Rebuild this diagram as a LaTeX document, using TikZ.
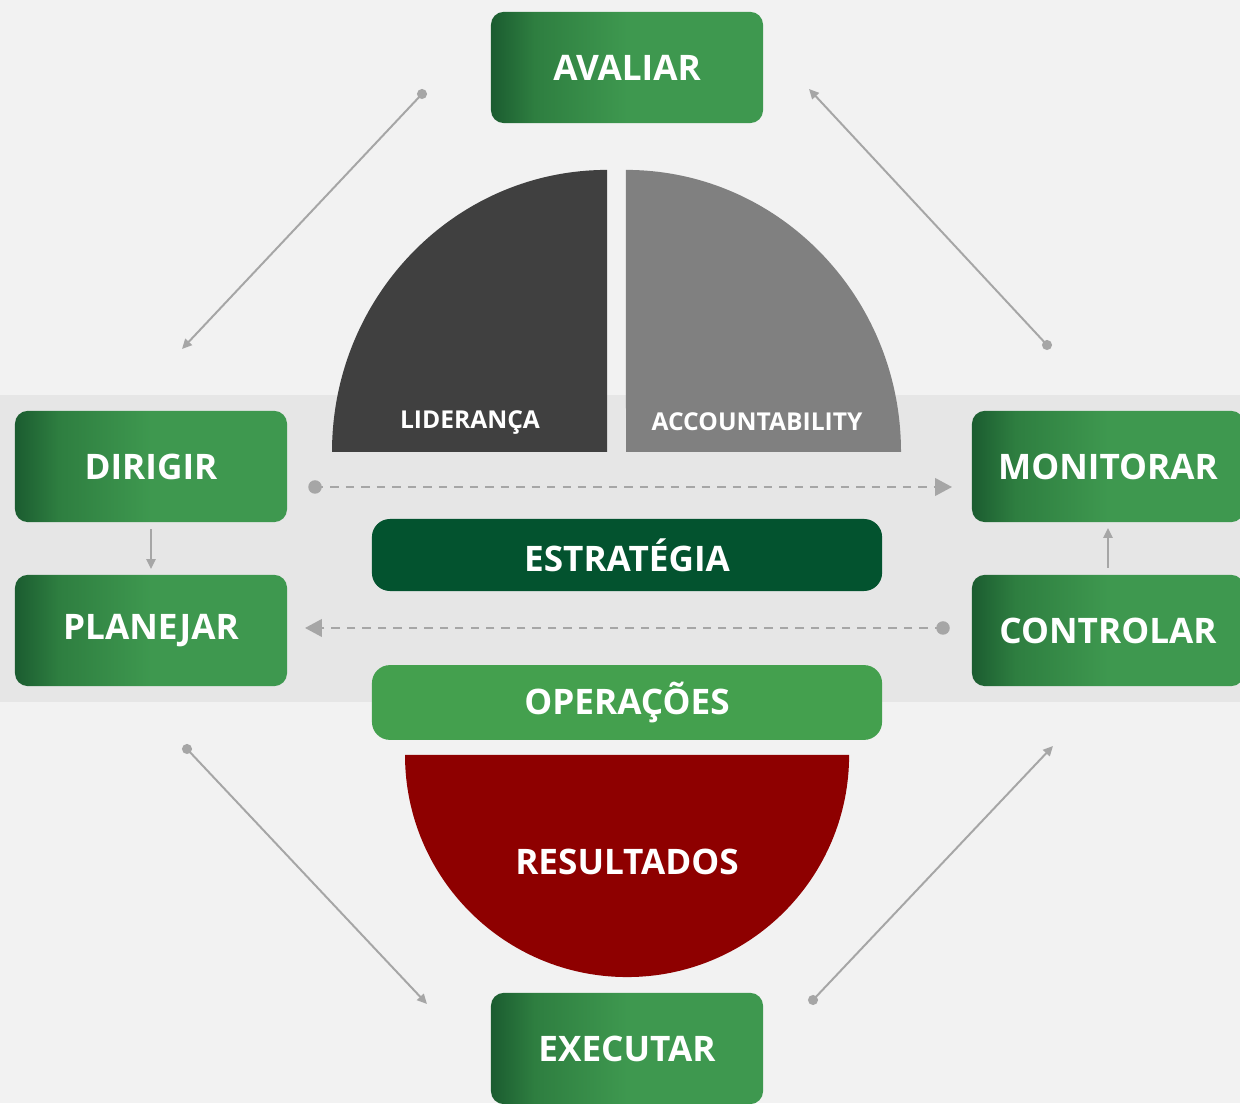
\documentclass[tikz,border=0pt]{standalone}
\usepackage{fontspec}
\setmainfont{Open Sans}
\usetikzlibrary{arrows.meta}
\definecolor{paper}{HTML}{F2F2F2}
\definecolor{band}{HTML}{E6E6E6}
\definecolor{gdark}{HTML}{1B5C30}
\definecolor{gmid}{HTML}{2E7E40}
\definecolor{glight}{HTML}{3E984F}
\definecolor{strat}{HTML}{03532F}
\definecolor{oper}{HTML}{44A04E}
\definecolor{result}{HTML}{8E0000}
\definecolor{lead}{HTML}{404040}
\definecolor{account}{HTML}{808080}
\definecolor{wire}{HTML}{A6A6A6}
\pgfdeclarehorizontalshading{boxshade}{100bp}{color(0bp)=(gdark); color(25bp)=(gdark); color(33bp)=(gmid); color(50bp)=(glight); color(100bp)=(glight)}
\newcommand{\biglbl}{\fontsize{25}{28}\selectfont\bfseries}
\newcommand{\smalllbl}{\fontsize{17.5}{20}\selectfont\bfseries}

\begin{document}
\begin{tikzpicture}[x=0.025cm, y=0.025cm,
    stage/.style={shading=boxshade, rounded corners=0.32cm, minimum width=6.8cm, minimum height=2.78cm, inner sep=0pt, text=white, font=\biglbl},
    bar/.style={rounded corners=0.45cm, minimum width=12.75cm, inner sep=0pt, text=white, font=\biglbl},
    wirearrow/.style={draw=wire, line width=1.4pt, -{Triangle[length=7pt,width=6.5pt]}},
    dashwire/.style={draw=wire, line width=1.4pt, dash pattern=on 6pt off 5pt, -{Triangle[length=12pt,width=12.5pt]}}]
    \useasboundingbox (0,0) rectangle (1240,1103);
    \clip (0,0) rectangle (1240,1103);
    \fill[paper] (0,0) rectangle (1240,1103);
    \fill[band] (0,401) rectangle (1240,708);
    % upper quarters
    \fill[lead] (607,651) -- (332,651) arc[start angle=180, end angle=90, x radius=6.875cm, y radius=7.05cm] -- cycle;
    \fill[account] (626,651) -- (901,651) arc[start angle=0, end angle=90, x radius=6.875cm, y radius=7.05cm] -- cycle;
    \node[text=white, font=\smalllbl] (lideranca) at (470,680) {LIDERANÇA};
    \node[text=white, font=\smalllbl] (accountability) at (757,681) {ACCOUNTABILITY};
    % lower half disc
    \fill[result] (405,348) arc[start angle=180, end angle=360, radius=5.55cm] -- cycle;
    \node[text=white, font=\biglbl] (resultados) at (627,241) {RESULTADOS};
    % stages
    \node[stage] (avaliar) at (627,1035.5) {AVALIAR};
    \node[stage] (dirigir) at (151,636.5) {DIRIGIR};
    \node[stage] (planejar) at (151,472.5) {PLANEJAR};
    \node[stage] (monitorar) at (1108,636.5) {MONITORAR};
    \node[stage] (controlar) at (1108,472.5) {CONTROLAR};
    \node[stage] (executar) at (627,54.5) {EXECUTAR};
    \node[bar, fill=strat, minimum height=1.8cm] (estrategia) at (627,548) {ESTRATÉGIA};
    \node[bar, fill=oper, minimum height=1.87cm] (operacoes) at (627,400.5) {OPERAÇÕES};
    % connectors
    \coordinate (tlA) at (422,1009); \coordinate (tlB) at (182,754);
    \coordinate (trA) at (1047,758); \coordinate (trB) at (809,1014);
    \coordinate (blA) at (187,354); \coordinate (blB) at (427,99);
    \coordinate (brA) at (813,103); \coordinate (brB) at (1053,357);
    \coordinate (upA) at (315,616); \coordinate (upB) at (952,616);
    \coordinate (loA) at (943,475); \coordinate (loB) at (305,475);
    \foreach \a/\b in {tlA/tlB, trA/trB, blA/blB, brA/brB} {
      \draw[wirearrow] (\a) -- (\b);
      \fill[wire] (\a) circle (3.6pt);
    }
    \foreach \a/\b in {upA/upB, loA/loB} {
      \draw[dashwire] (\a) -- (\b);
      \fill[wire] (\a) circle (4.8pt);
    }
    \draw[wirearrow] ([yshift=-5pt]dirigir.south) -- ([yshift=4pt]planejar.north);
    \draw[wirearrow] ([yshift=5pt]controlar.north) -- ([yshift=-4pt]monitorar.south);
\end{tikzpicture}
\end{document}
